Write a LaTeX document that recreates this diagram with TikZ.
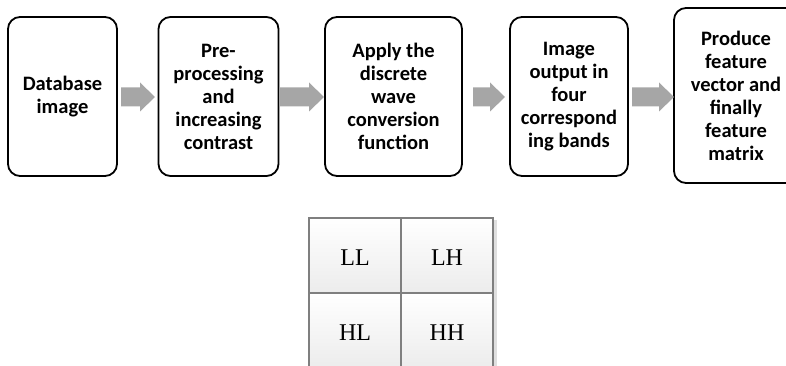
\documentclass[tikz,border=0pt]{standalone}
\usepackage{fontspec}
\setmainfont{Carlito}
\newfontfamily\cellfont{Liberation Serif}
\definecolor{arrowgray}{HTML}{A6A6A6}
\definecolor{gridgray}{HTML}{7F7F7F}
\begin{document}
\begin{tikzpicture}[x=1pt,y=-1pt,
  stepbox/.style={draw=black, line width=1.8pt, rounded corners=12pt, align=center,
    font=\fontsize{20.5}{23}\selectfont\bfseries, inner sep=0pt},
  garrow/.style={fill=arrowgray},
  cellbox/.style={draw=gridgray, line width=1.3pt, minimum width=92pt, minimum height=75pt,
    top color=white, bottom color=gray!15, inner sep=0pt},
  celltext/.style={font=\cellfont\fontsize{24}{28}\selectfont}
]
\useasboundingbox (0,0) rectangle (786,366);
% boxes
\node[stepbox, minimum width=109pt, minimum height=159pt] (b1) at (62.5,96.5) {Database\\image};
\node[stepbox, minimum width=120pt, minimum height=159pt] (b2) at (218.5,96.5) {Pre-\\processing\\and\\increasing\\contrast};
\node[stepbox, minimum width=137pt, minimum height=159pt] (b3) at (393.5,96.5) {Apply the\\discrete\\wave\\conversion\\function};
\node[stepbox, minimum width=118pt, minimum height=159pt] (b4) at (569,96.5) {Image\\output in\\four\\correspond\\ing bands};
\node[stepbox, minimum width=124pt, minimum height=175pt] (b5) at (736,95.5) {Produce\\feature\\vector and\\finally\\feature\\matrix};
% arrow endpoints
\coordinate (s1) at (121,97); \coordinate (e1) at (155,97);
\coordinate (s2) at (280,97); \coordinate (e2) at (324,97);
\coordinate (s3) at (473,97); \coordinate (e3) at (505,97);
\coordinate (s4) at (632,97); \coordinate (e4) at (674,97);
\foreach \i in {1,2,3,4}{
  \fill[garrow] ([yshift=9.5pt]s\i) -- ([xshift=-15pt,yshift=9.5pt]e\i) -- ([xshift=-15pt,yshift=14.5pt]e\i)
    -- (e\i) -- ([xshift=-15pt,yshift=-14.5pt]e\i) -- ([xshift=-15pt,yshift=-9.5pt]e\i)
    -- ([yshift=-9.5pt]s\i) -- cycle;
}
% grid shadow
\fill[gray!25] (494,220) rectangle (497,370);
% grid
\node[cellbox] (ll) at (355,255.5) {};
\node[cellbox] (lh) at (447,255.5) {};
\node[cellbox] (hl) at (355,330.5) {};
\node[cellbox] (hh) at (447,330.5) {};
\node[celltext] at ([yshift=-2pt]ll.center) {LL};
\node[celltext] at ([yshift=-2pt]lh.center) {LH};
\node[celltext] at ([yshift=-2pt]hl.center) {HL};
\node[celltext] at ([yshift=-2pt]hh.center) {HH};
\end{tikzpicture}
\end{document}
